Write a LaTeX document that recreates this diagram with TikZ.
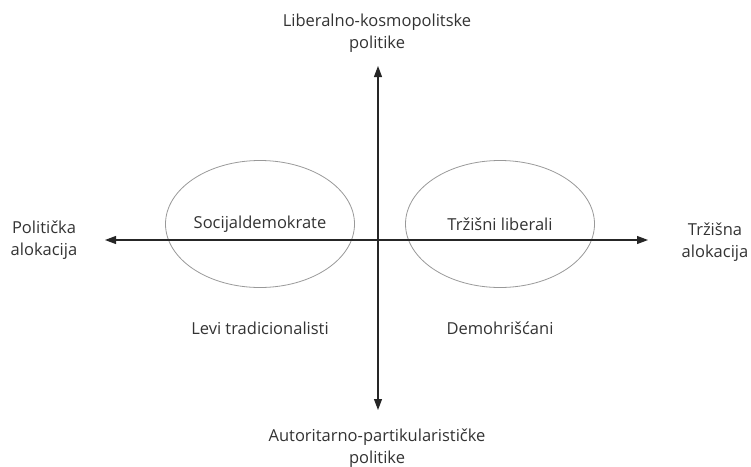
\documentclass[tikz,border=0pt]{standalone}
\usepackage{fontspec}
\setmainfont{Open Sans}
\usepackage{tikz}
\usetikzlibrary{arrows.meta}
\usetikzlibrary{shapes.geometric}

\tikzset{
  axis/.style={line width=1.1pt, black!85,
               {Triangle[length=11pt,width=8pt]}-{Triangle[length=11pt,width=8pt]}},
  group/.style={draw=black!40, line width=0.8pt, ellipse,
                minimum width=189pt, minimum height=127pt, inner sep=0pt},
  lbl/.style={align=center, text=black!80, font=\fontsize{16.5}{21.5}\selectfont}
}

\begin{document}
\begin{tikzpicture}[x=1pt, y=-1pt]
\useasboundingbox (0,0) rectangle (751,466);

% axis end points
\coordinate (west) at (105,240);
\coordinate (east) at (648,240);
\coordinate (north) at (378,66);
\coordinate (south) at (378,410);

% the two groups
\node[group, lbl] (socdem) at (260,224) {Socijaldemokrate};
\node[group, lbl] (market) at (500,224) {Tržišni liberali};

\draw[axis] (west) -- (east);
\draw[axis] (north) -- (south);

% axis labels
\node[lbl] (political) at (44,240) {Politička\\alokacija};
\node[lbl] (marketalloc) at (715,242) {Tržišna\\alokacija};
\node[lbl] (liberal) at (377,33) {Liberalno-kosmopolitske\\politike};
\node[lbl] (authoritarian) at (377,448) {Autoritarno-partikularističke\\politike};

% lower quadrants
\node[lbl] (leftrad) at (260,328) {Levi tradicionalisti};
\node[lbl] (christdem) at (500,328) {Demohrišćani};
\end{tikzpicture}
\end{document}
